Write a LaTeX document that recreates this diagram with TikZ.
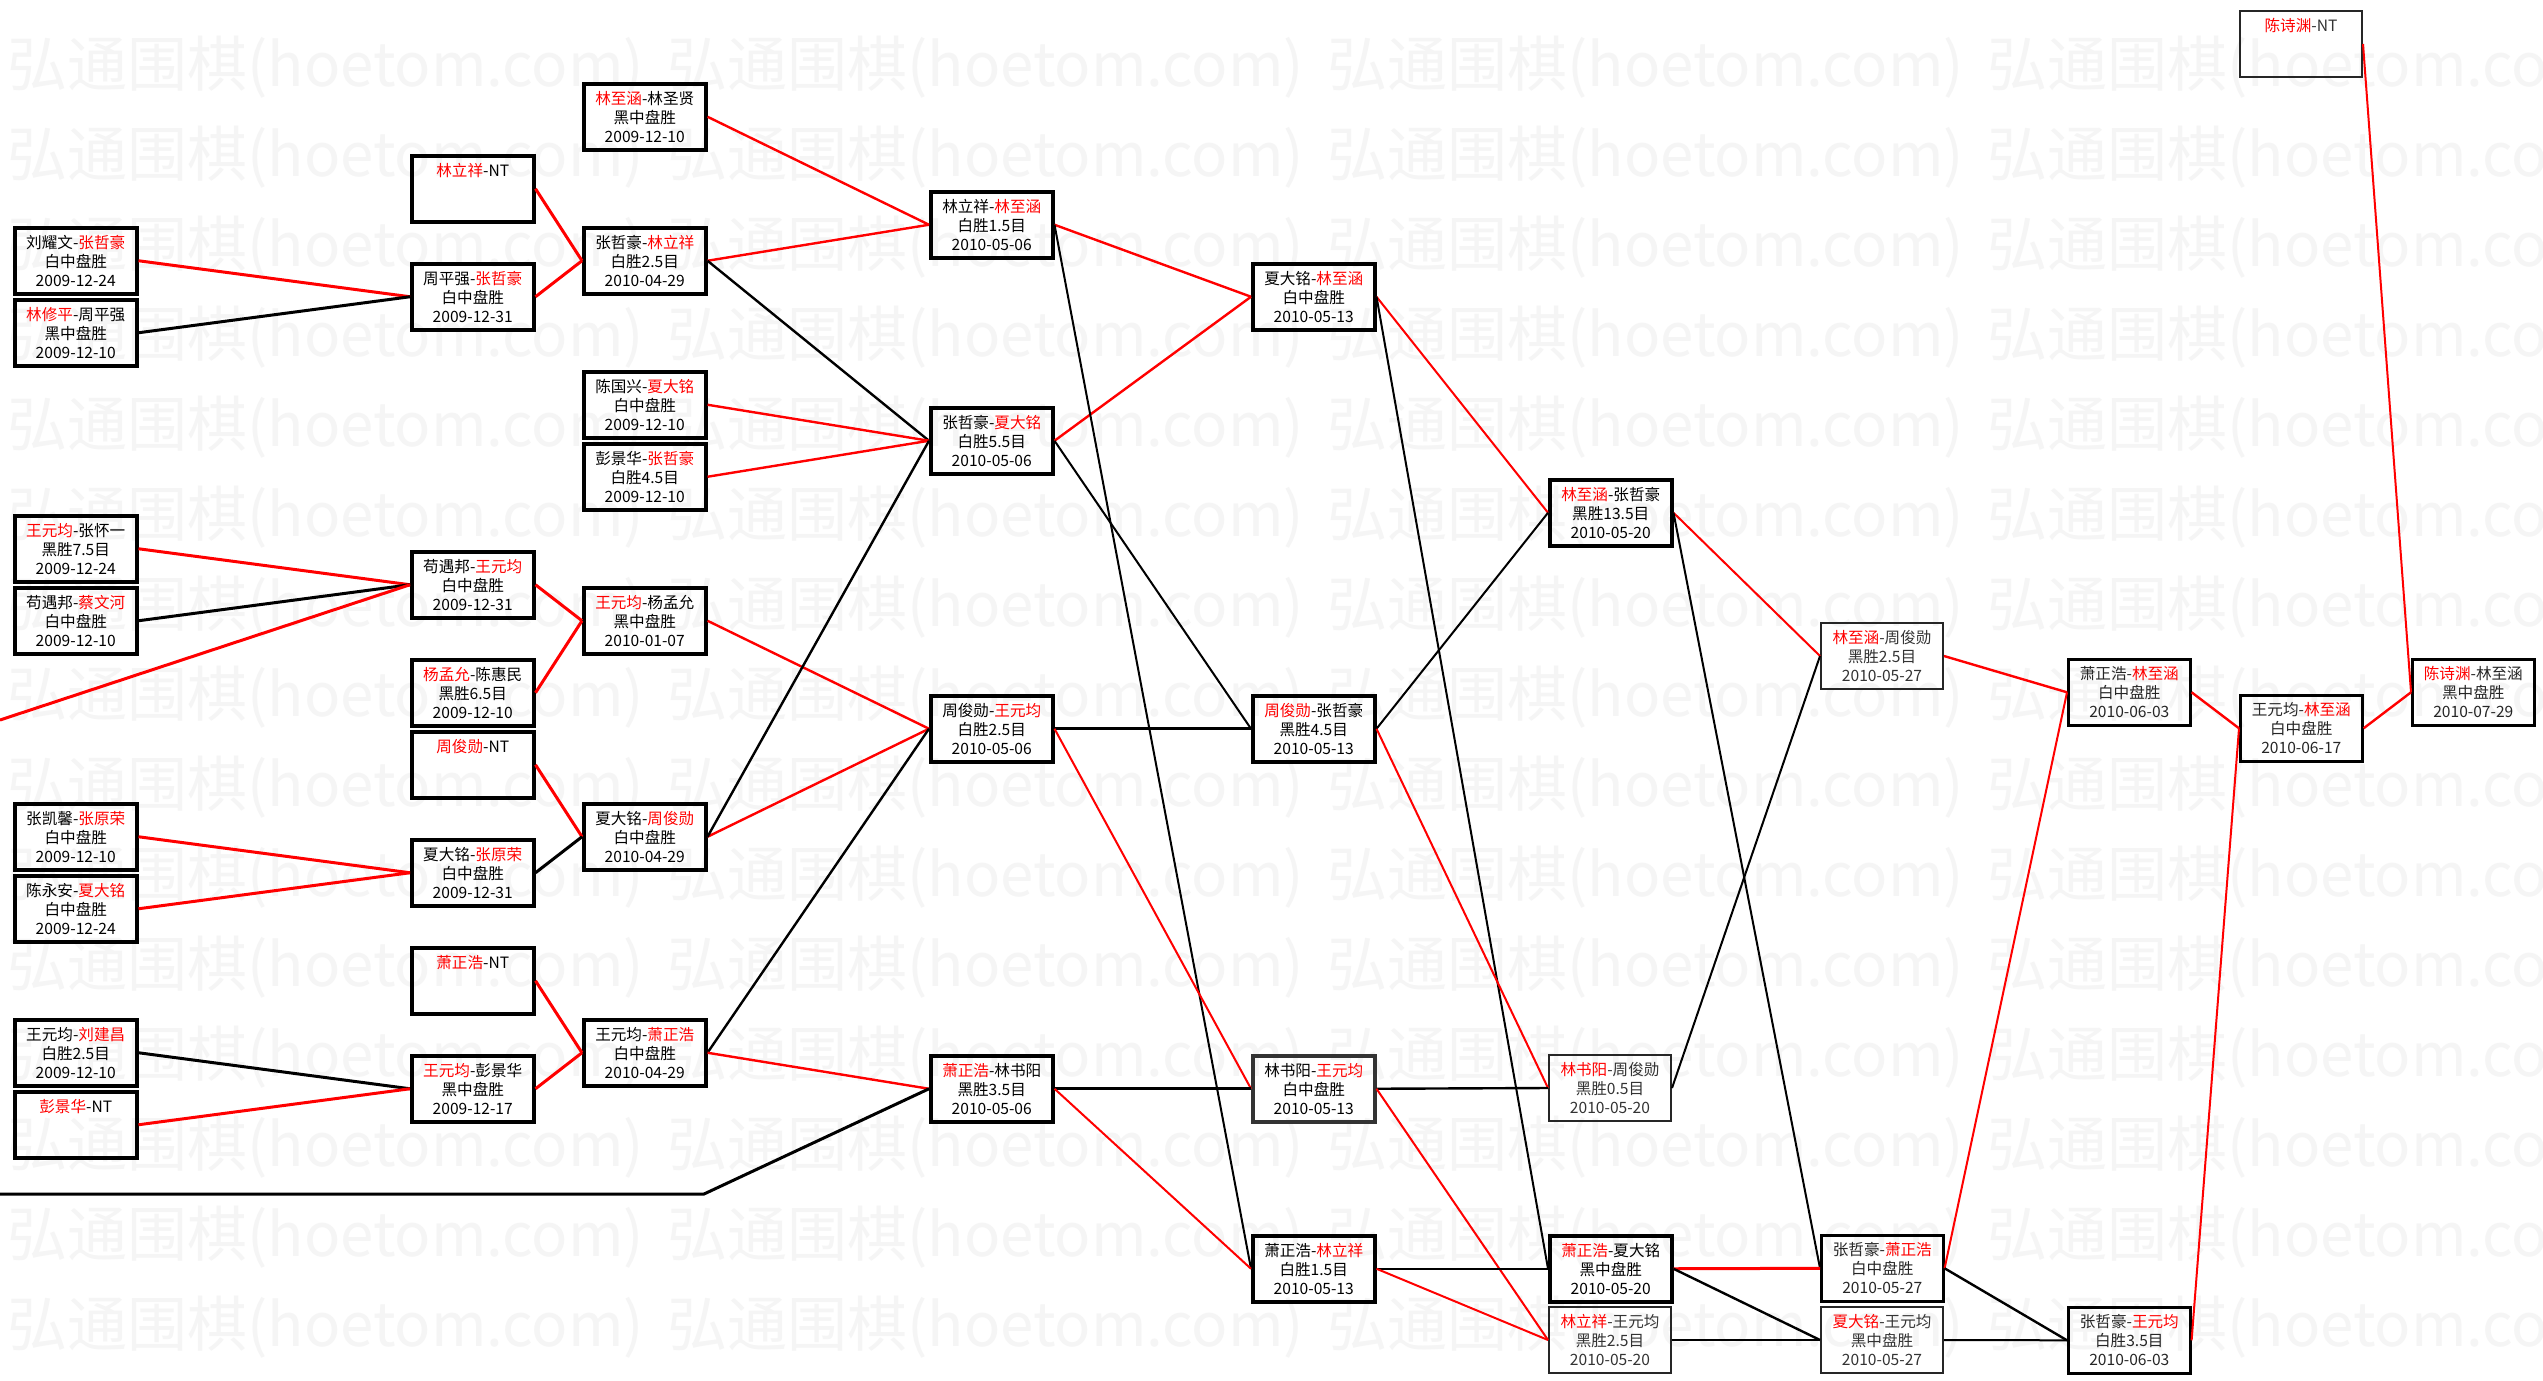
\documentclass[tikz,border=0pt]{standalone}
\usepackage{fontspec}
\setmainfont{Noto Sans CJK SC}
\newcommand\rd[1]{\textcolor{red}{#1}}
\begin{document}
\begin{tikzpicture}[x=0.5pt,y=-0.5pt,
  box/.style={draw=black, line width=1.75pt, minimum width=61pt, minimum height=33pt,
    inner sep=0pt, align=center, anchor=north west,
    font=\fontsize{7.8pt}{9.5pt}\selectfont},
  thinbox/.style={line width=1pt, text=black!80, draw=black!85},
  medbox/.style={line width=1.3pt, text=black!85},
  wm/.style={anchor=north west, inner sep=0pt, text=black!4, font=\fontsize{30pt}{30pt}\selectfont},
  ea/.style={line width=1.5pt},
  eb/.style={line width=1.2pt},
  ec/.style={line width=1pt},
  win/.style={draw=red},
  lose/.style={draw=black}
]
\useasboundingbox (0,0) rectangle (2543,1381);
\fill[white] (0,0) rectangle (2543,1381);
% watermark
\begin{scope}
\clip (0,0) rectangle (2543,1381);
\foreach \r in {0,...,14}{
  \foreach \c in {0,...,3}{
    \node[wm] (wm\r-\c) at ({7+660*\c},{36+90*\r}) {弘通围棋(hoetom.com)};
  }
}
\end{scope}
% column A
\node[box] (A1) at (13,226) {刘耀文-\rd{张哲豪}\\白中盘胜\\2009-12-24};
\node[box] (A2) at (13,298) {\rd{林修平}-周平强\\黑中盘胜\\2009-12-10};
\node[box] (A3) at (13,514) {\rd{王元均}-张怀一\\黑胜7.5目\\2009-12-24};
\node[box] (A4) at (13,586) {苟遇邦-\rd{蔡文河}\\白中盘胜\\2009-12-10};
\node[box] (A5) at (13,802) {张凯馨-\rd{张原荣}\\白中盘胜\\2009-12-10};
\node[box] (A6) at (13,874) {陈永安-\rd{夏大铭}\\白中盘胜\\2009-12-24};
\node[box] (A7) at (13,1018) {王元均-\rd{刘建昌}\\白胜2.5目\\2009-12-10};
\node[box] (A8) at (13,1090) {\rd{彭景华}-NT\\~\\~};
% column B
\node[box] (B1) at (410,154) {\rd{林立祥}-NT\\~\\~};
\node[box] (B2) at (410,262) {周平强-\rd{张哲豪}\\白中盘胜\\2009-12-31};
\node[box] (B3) at (410,550) {苟遇邦-\rd{王元均}\\白中盘胜\\2009-12-31};
\node[box] (B4) at (410,658) {\rd{杨孟允}-陈惠民\\黑胜6.5目\\2009-12-10};
\node[box] (B5) at (410,730) {\rd{周俊勋}-NT\\~\\~};
\node[box] (B6) at (410,838) {夏大铭-\rd{张原荣}\\白中盘胜\\2009-12-31};
\node[box] (B7) at (410,946) {\rd{萧正浩}-NT\\~\\~};
\node[box] (B8) at (410,1054) {\rd{王元均}-彭景华\\黑中盘胜\\2009-12-17};
% column C
\node[box] (C1) at (582,82) {\rd{林至涵}-林圣贤\\黑中盘胜\\2009-12-10};
\node[box] (C2) at (582,226) {张哲豪-\rd{林立祥}\\白胜2.5目\\2010-04-29};
\node[box] (C3) at (582,370) {陈国兴-\rd{夏大铭}\\白中盘胜\\2009-12-10};
\node[box] (C4) at (582,442) {彭景华-\rd{张哲豪}\\白胜4.5目\\2009-12-10};
\node[box] (C5) at (582,586) {\rd{王元均}-杨孟允\\黑中盘胜\\2010-01-07};
\node[box] (C6) at (582,802) {夏大铭-\rd{周俊勋}\\白中盘胜\\2010-04-29};
\node[box] (C7) at (582,1018) {王元均-\rd{萧正浩}\\白中盘胜\\2010-04-29};
% column D
\node[box] (D1) at (929,190) {林立祥-\rd{林至涵}\\白胜1.5目\\2010-05-06};
\node[box] (D2) at (929,406) {张哲豪-\rd{夏大铭}\\白胜5.5目\\2010-05-06};
\node[box] (D3) at (929,694) {周俊勋-\rd{王元均}\\白胜2.5目\\2010-05-06};
\node[box] (D4) at (929,1054) {\rd{萧正浩}-林书阳\\黑胜3.5目\\2010-05-06};
% column E
\node[box] (E1) at (1251,262) {夏大铭-\rd{林至涵}\\白中盘胜\\2010-05-13};
\node[box] (E2) at (1251,694) {\rd{周俊勋}-张哲豪\\黑胜4.5目\\2010-05-13};
\node[box,draw=black!80] (E3) at (1251,1054) {林书阳-\rd{王元均}\\白中盘胜\\2010-05-13};
\node[box] (E4) at (1251,1234) {萧正浩-\rd{林立祥}\\白胜1.5目\\2010-05-13};
% column F
\node[box] (F1) at (1548,478) {\rd{林至涵}-张哲豪\\黑胜13.5目\\2010-05-20};
\node[box,thinbox] (F2) at (1548,1054) {\rd{林书阳}-周俊勋\\黑胜0.5目\\2010-05-20};
\node[box] (F3) at (1548,1234) {\rd{萧正浩}-夏大铭\\黑中盘胜\\2010-05-20};
\node[box,thinbox] (F4) at (1548,1306) {\rd{林立祥}-王元均\\黑胜2.5目\\2010-05-20};
% column G
\node[box,thinbox] (G1) at (1820,622) {\rd{林至涵}-周俊勋\\黑胜2.5目\\2010-05-27};
\node[box,medbox] (G2) at (1820,1234) {张哲豪-\rd{萧正浩}\\白中盘胜\\2010-05-27};
\node[box,thinbox] (G3) at (1820,1306) {\rd{夏大铭}-王元均\\黑中盘胜\\2010-05-27};
% column H
\node[box,medbox] (H1) at (2067,658) {萧正浩-\rd{林至涵}\\白中盘胜\\2010-06-03};
\node[box,medbox] (H2) at (2067,1306) {张哲豪-\rd{王元均}\\白胜3.5目\\2010-06-03};
% column I
\node[box,thinbox] (I0) at (2239,10) {\rd{陈诗渊}-NT\\~\\~};
\node[box,medbox] (I1) at (2239,694) {王元均-\rd{林至涵}\\白中盘胜\\2010-06-17};
% column J
\node[box,medbox] (J1) at (2411,658) {\rd{陈诗渊}-林至涵\\黑中盘胜\\2010-07-29};
% free ends
\coordinate (L1) at (0,720);
\coordinate (L2) at (0,1194);
\coordinate (L3) at (704,1194);
% edges A->B, B->C
\draw[ea,win] (A1.east) -- (B2.west);
\draw[ea,lose] (A2.east) -- (B2.west);
\draw[ea,win] (B1.east) -- (C2.west);
\draw[ea,win] (B2.east) -- (C2.west);
\draw[ea,win] (A3.east) -- (B3.west);
\draw[ea,lose] (A4.east) -- (B3.west);
\draw[ea,win] (L1) -- (B3.west);
\draw[ea,win] (B3.east) -- (C5.west);
\draw[ea,win] (B4.east) -- (C5.west);
\draw[ea,win] (B5.east) -- (C6.west);
\draw[ea,lose] (B6.east) -- (C6.west);
\draw[ea,win] (A5.east) -- (B6.west);
\draw[ea,win] (A6.east) -- (B6.west);
\draw[ea,win] (B7.east) -- (C7.west);
\draw[ea,win] (B8.east) -- (C7.west);
\draw[ea,lose] (A7.east) -- (B8.west);
\draw[ea,win] (A8.east) -- (B8.west);
% edges C->D
\draw[eb,win] (C1.east) -- (D1.west);
\draw[eb,win] (C2.east) -- (D1.west);
\draw[eb,lose] (C2.east) -- (D2.west);
\draw[eb,win] (C3.east) -- (D2.west);
\draw[eb,win] (C4.east) -- (D2.west);
\draw[eb,win] (C5.east) -- (D3.west);
\draw[eb,win] (C6.east) -- (D3.west);
\draw[eb,lose] (C6.east) -- (D2.west);
\draw[eb,lose] (C7.east) -- (D3.west);
\draw[eb,win] (C7.east) -- (D4.west);
\draw[ea,lose] (L2) -- (L3) -- (D4.west);
% edges D->E
\draw[eb,win] (D1.east) -- (E1.west);
\draw[eb,win] (D2.east) -- (E1.west);
\draw[ec,lose] (D1.east) -- (E4.west);
\draw[ec,lose] (D2.east) -- (E2.west);
\draw[ea,lose] (D3.east) -- (E2.west);
\draw[ec,win] (D3.east) -- (E3.west);
\draw[ea,lose] (D4.east) -- (E3.west);
\draw[ec,win] (D4.east) -- (E4.west);
% edges E->F
\draw[ec,win] (E1.east) -- (F1.west);
\draw[ec,lose] (E1.east) -- (F3.west);
\draw[ec,lose] (E2.east) -- (F1.west);
\draw[ec,win] (E2.east) -- (F2.west);
\draw[eb,lose] (E3.east) -- (F2.west);
\draw[ec,win] (E3.east) -- (F4.west);
\draw[eb,lose] (E4.east) -- (F3.west);
\draw[ec,win] (E4.east) -- (F4.west);
% edges F->G
\draw[ec,win] (F1.east) -- (G1.west);
\draw[ec,lose] (F1.east) -- (G2.west);
\draw[ec,lose] (F2.east) -- (G1.west);
\draw[ea,win] (F3.east) -- (G2.west);
\draw[eb,lose] (F3.east) -- (G3.west);
\draw[ec,lose] (F4.east) -- (G3.west);
% edges G->H
\draw[eb,win] (G1.east) -- (H1.west);
\draw[ec,win] (G2.east) -- (H1.west);
\draw[eb,lose] (G2.east) -- (H2.west);
\draw[ec,lose] (G3.east) -- (H2.west);
% edges H->I, I->J
\draw[eb,win] (H1.east) -- (I1.west);
\draw[ec,win] (H2.east) -- (I1.west);
\draw[ec,win] (I0.east) -- (J1.west);
\draw[eb,win] (I1.east) -- (J1.west);
\end{tikzpicture}
\end{document}
